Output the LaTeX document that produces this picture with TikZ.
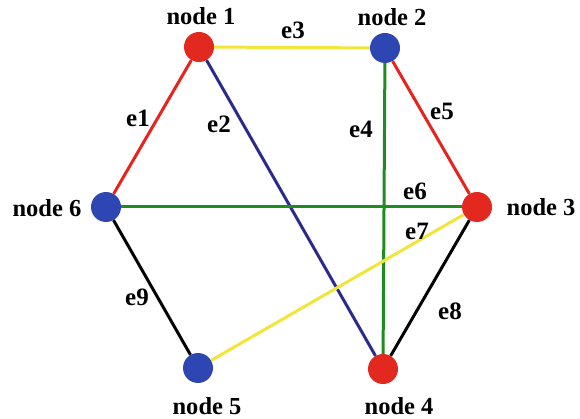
\documentclass[tikz,border=0pt]{standalone}
\usepackage{fontspec}
\setmainfont{Liberation Serif}
\begin{document}
\begin{tikzpicture}[x=1pt,y=-1pt,
  vred/.style={circle,fill=nred,minimum size=30pt,inner sep=0pt},
  vblue/.style={circle,fill=nblue,minimum size=30pt,inner sep=0pt},
  lbl/.style={font=\fontsize{24.5}{26}\selectfont\bfseries,inner sep=0pt},
  elbl/.style={font=\fontsize{25}{27}\selectfont\bfseries,inner sep=0pt},
  edge/.style={line width=3pt}]
\definecolor{nred}{HTML}{E3291F}
\definecolor{nblue}{HTML}{2E46B2}
\definecolor{eyel}{HTML}{F2E53A}
\definecolor{egreen}{HTML}{1E8C1E}
\definecolor{enavy}{HTML}{2B2A8C}
\definecolor{ered}{HTML}{E8231E}
\useasboundingbox (0,0) rectangle (580,419);
\node[vred] (n1) at (199,47) {};
\node[vblue] (n2) at (385,48) {};
\node[vred] (n3) at (477,207) {};
\node[vred] (n4) at (383,369) {};
\node[vblue] (n5) at (198,368) {};
\node[vblue] (n6) at (106,207) {};
\draw[edge,ered] (n1) -- (n6);
\draw[edge,enavy] (n1) -- (n4);
\draw[edge,eyel] (n1) -- (n2);
\draw[edge,egreen] (n2) -- (n4);
\draw[edge,ered] (n2) -- (n3);
\draw[edge,egreen] (n6) -- (n3);
\draw[edge,eyel] (n5) -- (n3);
\draw[edge,black] (n3) -- (n4);
\draw[edge,black] (n6) -- (n5);
\node[lbl] (l1) at (201,16) {node 1};
\node[lbl] (l2) at (392,17) {node 2};
\node[lbl] (l3) at (541,207) {node 3};
\node[lbl] (l4) at (399,406) {node 4};
\node[lbl] (l5) at (207,406) {node 5};
\node[lbl] (l6) at (47,208) {node 6};
\node[elbl] (e1) at (138,118) {e1};
\node[elbl] (e2) at (219,124) {e2};
\node[elbl] (e3) at (293,30) {e3};
\node[elbl] (e4) at (361,129) {e4};
\node[elbl] (e5) at (442,111) {e5};
\node[elbl] (e6) at (415,191) {e6};
\node[elbl] (e7) at (417,231) {e7};
\node[elbl] (e8) at (450,311) {e8};
\node[elbl] (e9) at (137,297) {e9};
\end{tikzpicture}
\end{document}
